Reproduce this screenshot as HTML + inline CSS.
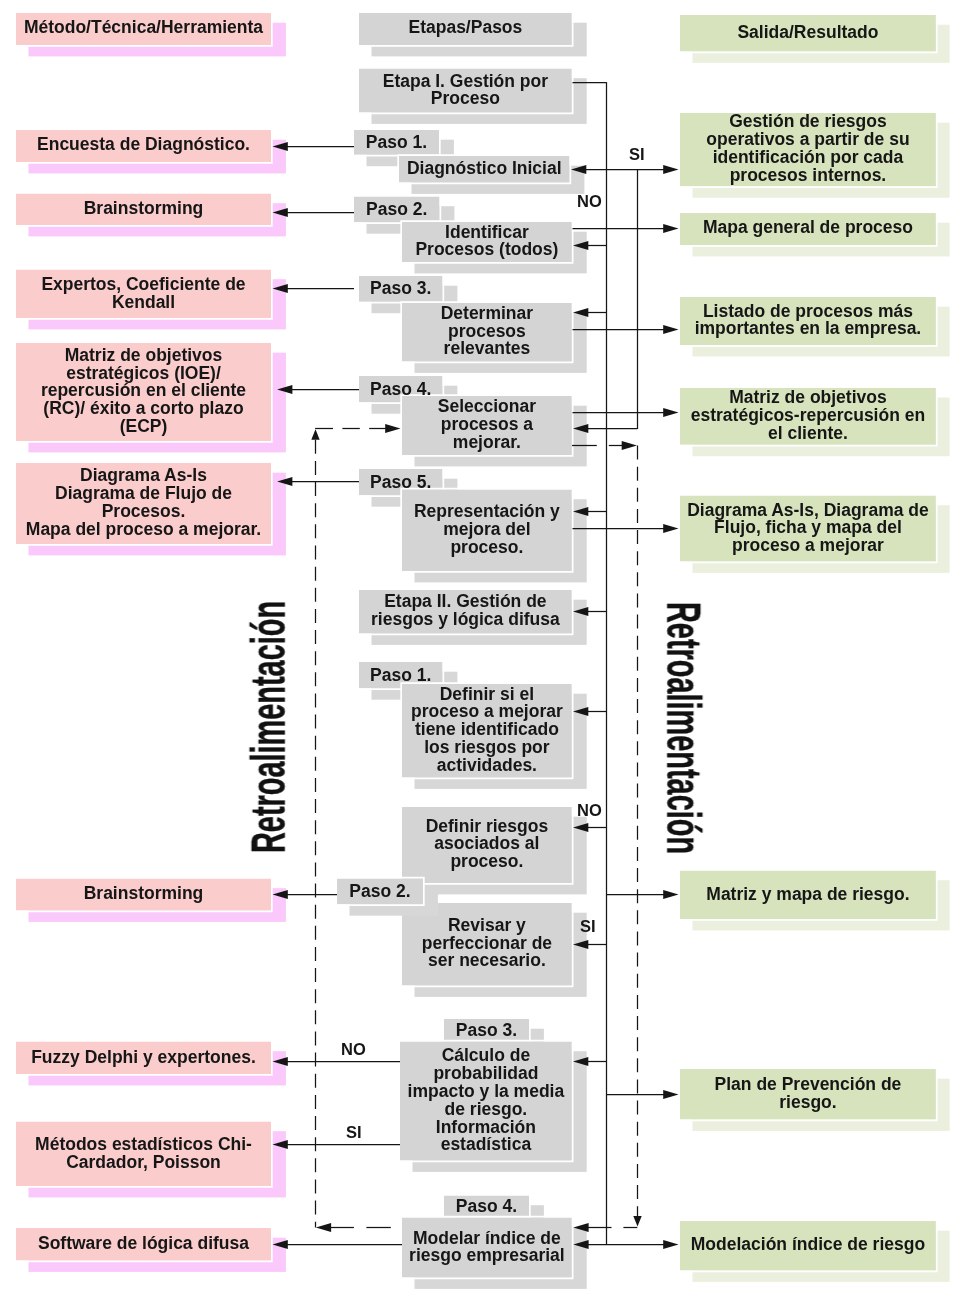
<!DOCTYPE html>
<html><head><meta charset="utf-8"><style>
html,body{margin:0;padding:0;background:#fff;width:968px;height:1300px;overflow:hidden;position:relative}
.s,.m{position:absolute;box-sizing:border-box}
.m{display:flex;align-items:center;justify-content:center;text-align:center;
font-family:"Liberation Sans",sans-serif;font-weight:bold;font-size:17.50px;line-height:17.80px;color:#161616;white-space:nowrap}
.m span{display:block;position:relative}
.m,.lb,.rt{will-change:transform}
.lb{position:absolute;font-family:"Liberation Sans",sans-serif;font-weight:bold;font-size:16.5px;line-height:16px;color:#161616;white-space:nowrap}
.rt{position:absolute;font-family:"Liberation Sans",sans-serif;font-weight:bold;color:#111;-webkit-text-stroke:0.3px #111;white-space:nowrap;transform-origin:0 0}
svg{position:absolute;left:0;top:0}
</style></head><body>

<svg width="968" height="1300" viewBox="0 0 968 1300">
<rect x="28.50" y="22.70" width="257.40" height="33.70" fill="#fac8fa"/>
<rect x="16.00" y="13.00" width="255.00" height="32.00" fill="#facccc"/>
<path d="M14.30 11.30H272.70V46.70H14.30Z M16.00 13.00V45.00H271.00V13.00Z" fill="#fff" fill-rule="evenodd"/>
<rect x="28.50" y="139.70" width="257.40" height="33.70" fill="#fac8fa"/>
<rect x="16.00" y="130.00" width="255.00" height="32.00" fill="#facccc"/>
<path d="M14.30 128.30H272.70V163.70H14.30Z M16.00 130.00V162.00H271.00V130.00Z" fill="#fff" fill-rule="evenodd"/>
<rect x="28.50" y="203.20" width="257.40" height="33.20" fill="#fac8fa"/>
<rect x="16.00" y="193.50" width="255.00" height="31.50" fill="#facccc"/>
<path d="M14.30 191.80H272.70V226.70H14.30Z M16.00 193.50V225.00H271.00V193.50Z" fill="#fff" fill-rule="evenodd"/>
<rect x="28.50" y="279.20" width="257.40" height="50.20" fill="#fac8fa"/>
<rect x="16.00" y="269.50" width="255.00" height="48.50" fill="#facccc"/>
<path d="M14.30 267.80H272.70V319.70H14.30Z M16.00 269.50V318.00H271.00V269.50Z" fill="#fff" fill-rule="evenodd"/>
<rect x="28.50" y="352.70" width="257.40" height="99.70" fill="#fac8fa"/>
<rect x="16.00" y="343.00" width="255.00" height="98.00" fill="#facccc"/>
<path d="M14.30 341.30H272.70V442.70H14.30Z M16.00 343.00V441.00H271.00V343.00Z" fill="#fff" fill-rule="evenodd"/>
<rect x="28.50" y="472.70" width="257.40" height="82.70" fill="#fac8fa"/>
<rect x="16.00" y="463.00" width="255.00" height="81.00" fill="#facccc"/>
<path d="M14.30 461.30H272.70V545.70H14.30Z M16.00 463.00V544.00H271.00V463.00Z" fill="#fff" fill-rule="evenodd"/>
<rect x="28.50" y="888.20" width="257.40" height="33.70" fill="#fac8fa"/>
<rect x="16.00" y="878.50" width="255.00" height="32.00" fill="#facccc"/>
<path d="M14.30 876.80H272.70V912.20H14.30Z M16.00 878.50V910.50H271.00V878.50Z" fill="#fff" fill-rule="evenodd"/>
<rect x="28.50" y="1051.20" width="257.40" height="34.20" fill="#fac8fa"/>
<rect x="16.00" y="1041.50" width="255.00" height="32.50" fill="#facccc"/>
<path d="M14.30 1039.80H272.70V1075.70H14.30Z M16.00 1041.50V1074.00H271.00V1041.50Z" fill="#fff" fill-rule="evenodd"/>
<rect x="28.50" y="1131.20" width="257.40" height="66.20" fill="#fac8fa"/>
<rect x="16.00" y="1121.50" width="255.00" height="64.50" fill="#facccc"/>
<path d="M14.30 1119.80H272.70V1187.70H14.30Z M16.00 1121.50V1186.00H271.00V1121.50Z" fill="#fff" fill-rule="evenodd"/>
<rect x="28.50" y="1237.70" width="257.40" height="34.20" fill="#fac8fa"/>
<rect x="16.00" y="1228.00" width="255.00" height="32.50" fill="#facccc"/>
<path d="M14.30 1226.30H272.70V1262.20H14.30Z M16.00 1228.00V1260.50H271.00V1228.00Z" fill="#fff" fill-rule="evenodd"/>
<rect x="692.50" y="24.70" width="257.10" height="38.20" fill="#eaf0dd"/>
<rect x="680.00" y="15.00" width="255.90" height="36.50" fill="#d7e3bd"/>
<path d="M678.30 13.30H937.60V53.20H678.30Z M680.00 15.00V51.50H935.90V15.00Z" fill="#fff" fill-rule="evenodd"/>
<rect x="692.50" y="122.70" width="257.10" height="75.00" fill="#eaf0dd"/>
<rect x="680.00" y="113.00" width="255.90" height="73.30" fill="#d7e3bd"/>
<path d="M678.30 111.30H937.60V188.00H678.30Z M680.00 113.00V186.30H935.90V113.00Z" fill="#fff" fill-rule="evenodd"/>
<rect x="692.50" y="222.70" width="257.10" height="33.70" fill="#eaf0dd"/>
<rect x="680.00" y="213.00" width="255.90" height="32.00" fill="#d7e3bd"/>
<path d="M678.30 211.30H937.60V246.70H678.30Z M680.00 213.00V245.00H935.90V213.00Z" fill="#fff" fill-rule="evenodd"/>
<rect x="692.50" y="306.70" width="257.10" height="49.70" fill="#eaf0dd"/>
<rect x="680.00" y="297.00" width="255.90" height="48.00" fill="#d7e3bd"/>
<path d="M678.30 295.30H937.60V346.70H678.30Z M680.00 297.00V345.00H935.90V297.00Z" fill="#fff" fill-rule="evenodd"/>
<rect x="692.50" y="397.50" width="257.10" height="58.70" fill="#eaf0dd"/>
<rect x="680.00" y="387.80" width="255.90" height="57.00" fill="#d7e3bd"/>
<path d="M678.30 386.10H937.60V446.50H678.30Z M680.00 387.80V444.80H935.90V387.80Z" fill="#fff" fill-rule="evenodd"/>
<rect x="692.50" y="505.20" width="257.10" height="67.70" fill="#eaf0dd"/>
<rect x="680.00" y="495.50" width="255.90" height="66.00" fill="#d7e3bd"/>
<path d="M678.30 493.80H937.60V563.20H678.30Z M680.00 495.50V561.50H935.90V495.50Z" fill="#fff" fill-rule="evenodd"/>
<rect x="692.50" y="880.20" width="257.10" height="50.20" fill="#eaf0dd"/>
<rect x="680.00" y="870.50" width="255.90" height="48.50" fill="#d7e3bd"/>
<path d="M678.30 868.80H937.60V920.70H678.30Z M680.00 870.50V919.00H935.90V870.50Z" fill="#fff" fill-rule="evenodd"/>
<rect x="692.50" y="1078.70" width="257.10" height="52.20" fill="#eaf0dd"/>
<rect x="680.00" y="1069.00" width="255.90" height="50.50" fill="#d7e3bd"/>
<path d="M678.30 1067.30H937.60V1121.20H678.30Z M680.00 1069.00V1119.50H935.90V1069.00Z" fill="#fff" fill-rule="evenodd"/>
<rect x="692.50" y="1230.70" width="257.10" height="51.20" fill="#eaf0dd"/>
<rect x="680.00" y="1221.00" width="255.90" height="49.50" fill="#d7e3bd"/>
<path d="M678.30 1219.30H937.60V1272.20H678.30Z M680.00 1221.00V1270.50H935.90V1221.00Z" fill="#fff" fill-rule="evenodd"/>
<rect x="371.50" y="22.70" width="215.20" height="33.70" fill="#d7d7d7"/>
<rect x="359.00" y="13.00" width="212.80" height="32.00" fill="#d4d4d4"/>
<path d="M357.30 11.30H573.50V46.70H357.30Z M359.00 13.00V45.00H571.80V13.00Z" fill="#fff" fill-rule="evenodd"/>
<rect x="371.50" y="78.20" width="215.20" height="45.70" fill="#d7d7d7"/>
<rect x="359.00" y="68.50" width="212.80" height="44.00" fill="#d4d4d4"/>
<path d="M357.30 66.80H573.50V114.20H357.30Z M359.00 68.50V112.50H571.80V68.50Z" fill="#fff" fill-rule="evenodd"/>
<rect x="366.50" y="139.70" width="87.40" height="26.50" fill="#d7d7d7"/>
<rect x="354.00" y="130.00" width="85.00" height="24.80" fill="#d4d4d4"/>
<path d="M352.30 128.30H440.70V156.50H352.30Z M354.00 130.00V154.80H439.00V130.00Z" fill="#fff" fill-rule="evenodd"/>
<rect x="411.50" y="165.70" width="172.90" height="28.20" fill="#d7d7d7"/>
<rect x="399.00" y="156.00" width="170.50" height="26.50" fill="#d4d4d4"/>
<path d="M397.30 154.30H571.20V184.20H397.30Z M399.00 156.00V182.50H569.50V156.00Z" fill="#fff" fill-rule="evenodd"/>
<rect x="366.50" y="206.20" width="87.90" height="27.50" fill="#d7d7d7"/>
<rect x="354.00" y="196.50" width="85.50" height="25.80" fill="#d4d4d4"/>
<path d="M352.30 194.80H441.20V224.00H352.30Z M354.00 196.50V222.30H439.50V196.50Z" fill="#fff" fill-rule="evenodd"/>
<rect x="414.50" y="231.70" width="172.20" height="41.70" fill="#d7d7d7"/>
<rect x="402.00" y="222.00" width="169.80" height="40.00" fill="#d4d4d4"/>
<path d="M400.30 220.30H573.50V263.70H400.30Z M402.00 222.00V262.00H571.80V222.00Z" fill="#fff" fill-rule="evenodd"/>
<rect x="371.50" y="285.70" width="85.90" height="27.50" fill="#d7d7d7"/>
<rect x="359.00" y="276.00" width="83.50" height="25.80" fill="#d4d4d4"/>
<path d="M357.30 274.30H444.20V303.50H357.30Z M359.00 276.00V301.80H442.50V276.00Z" fill="#fff" fill-rule="evenodd"/>
<rect x="414.50" y="312.70" width="172.20" height="60.20" fill="#d7d7d7"/>
<rect x="402.00" y="303.00" width="169.80" height="58.50" fill="#d4d4d4"/>
<path d="M400.30 301.30H573.50V363.20H400.30Z M402.00 303.00V361.50H571.80V303.00Z" fill="#fff" fill-rule="evenodd"/>
<rect x="371.50" y="385.70" width="85.90" height="28.00" fill="#d7d7d7"/>
<rect x="359.00" y="376.00" width="83.50" height="26.30" fill="#d4d4d4"/>
<path d="M357.30 374.30H444.20V404.00H357.30Z M359.00 376.00V402.30H442.50V376.00Z" fill="#fff" fill-rule="evenodd"/>
<rect x="414.50" y="405.70" width="172.20" height="60.70" fill="#d7d7d7"/>
<rect x="402.00" y="396.00" width="169.80" height="59.00" fill="#d4d4d4"/>
<path d="M400.30 394.30H573.50V456.70H400.30Z M402.00 396.00V455.00H571.80V396.00Z" fill="#fff" fill-rule="evenodd"/>
<rect x="371.50" y="478.70" width="85.90" height="28.00" fill="#d7d7d7"/>
<rect x="359.00" y="469.00" width="83.50" height="26.30" fill="#d4d4d4"/>
<path d="M357.30 467.30H444.20V497.00H357.30Z M359.00 469.00V495.30H442.50V469.00Z" fill="#fff" fill-rule="evenodd"/>
<rect x="414.50" y="499.20" width="172.20" height="83.20" fill="#d7d7d7"/>
<rect x="402.00" y="489.50" width="169.80" height="81.50" fill="#d4d4d4"/>
<path d="M400.30 487.80H573.50V572.70H400.30Z M402.00 489.50V571.00H571.80V489.50Z" fill="#fff" fill-rule="evenodd"/>
<rect x="371.50" y="599.70" width="215.20" height="45.20" fill="#d7d7d7"/>
<rect x="359.00" y="590.00" width="212.80" height="43.50" fill="#d4d4d4"/>
<path d="M357.30 588.30H573.50V635.20H357.30Z M359.00 590.00V633.50H571.80V590.00Z" fill="#fff" fill-rule="evenodd"/>
<rect x="371.50" y="671.70" width="85.90" height="28.00" fill="#d7d7d7"/>
<rect x="359.00" y="662.00" width="83.50" height="26.30" fill="#d4d4d4"/>
<path d="M357.30 660.30H444.20V690.00H357.30Z M359.00 662.00V688.30H442.50V662.00Z" fill="#fff" fill-rule="evenodd"/>
<rect x="414.50" y="693.70" width="172.20" height="95.20" fill="#d7d7d7"/>
<rect x="402.00" y="684.00" width="169.80" height="93.50" fill="#d4d4d4"/>
<path d="M400.30 682.30H573.50V779.20H400.30Z M402.00 684.00V777.50H571.80V684.00Z" fill="#fff" fill-rule="evenodd"/>
<rect x="414.50" y="816.70" width="172.20" height="77.70" fill="#d7d7d7"/>
<rect x="402.00" y="807.00" width="169.80" height="76.00" fill="#d4d4d4"/>
<path d="M400.30 805.30H573.50V884.70H400.30Z M402.00 807.00V883.00H571.80V807.00Z" fill="#fff" fill-rule="evenodd"/>
<rect x="414.50" y="912.70" width="172.20" height="84.20" fill="#d7d7d7"/>
<rect x="402.00" y="903.00" width="169.80" height="82.50" fill="#d4d4d4"/>
<path d="M400.30 901.30H573.50V987.20H400.30Z M402.00 903.00V985.50H571.80V903.00Z" fill="#fff" fill-rule="evenodd"/>
<rect x="349.50" y="888.20" width="88.40" height="27.50" fill="#d7d7d7"/>
<rect x="337.00" y="878.50" width="86.00" height="25.80" fill="#d4d4d4"/>
<path d="M335.30 876.80H424.70V906.00H335.30Z M337.00 878.50V904.30H423.00V878.50Z" fill="#fff" fill-rule="evenodd"/>
<rect x="456.50" y="1028.70" width="87.40" height="24.50" fill="#d7d7d7"/>
<rect x="444.00" y="1019.00" width="85.00" height="22.80" fill="#d4d4d4"/>
<path d="M442.30 1017.30H530.70V1043.50H442.30Z M444.00 1019.00V1041.80H529.00V1019.00Z" fill="#fff" fill-rule="evenodd"/>
<rect x="412.50" y="1051.20" width="174.20" height="120.70" fill="#d7d7d7"/>
<rect x="400.00" y="1041.50" width="171.80" height="119.00" fill="#d4d4d4"/>
<path d="M398.30 1039.80H573.50V1162.20H398.30Z M400.00 1041.50V1160.50H571.80V1041.50Z" fill="#fff" fill-rule="evenodd"/>
<rect x="456.50" y="1205.20" width="87.40" height="23.50" fill="#d7d7d7"/>
<rect x="444.00" y="1195.50" width="85.00" height="21.80" fill="#d4d4d4"/>
<path d="M442.30 1193.80H530.70V1219.00H442.30Z M444.00 1195.50V1217.30H529.00V1195.50Z" fill="#fff" fill-rule="evenodd"/>
<rect x="414.50" y="1227.20" width="172.20" height="61.70" fill="#d7d7d7"/>
<rect x="402.00" y="1217.50" width="169.80" height="60.00" fill="#d4d4d4"/>
<path d="M400.30 1215.80H573.50V1279.20H400.30Z M402.00 1217.50V1277.50H571.80V1217.50Z" fill="#fff" fill-rule="evenodd"/>
</svg>
<div class="m" style="left:16px;top:13px;width:255px;height:32px"><span style="top:-0.7px;left:0px">Método/Técnica/Herramienta</span></div>
<div class="m" style="left:16px;top:130px;width:255px;height:32px"><span style="top:-0.7px;left:0px">Encuesta de Diagnóstico.</span></div>
<div class="m" style="left:16px;top:193.5px;width:255px;height:31.5px"><span style="top:-0.7px;left:0px">Brainstorming</span></div>
<div class="m" style="left:16px;top:269.5px;width:255px;height:48.5px"><span style="top:-0.7px;left:0px">Expertos, Coeficiente de<br>Kendall</span></div>
<div class="m" style="left:16px;top:343px;width:255px;height:98px"><span style="top:-0.7px;left:0px">Matriz de objetivos<br>estratégicos (IOE)/<br>repercusión en el cliente<br>(RC)/ éxito a corto plazo<br>(ECP)</span></div>
<div class="m" style="left:16px;top:463px;width:255px;height:81px"><span style="top:-0.7px;left:0px">Diagrama As-Is<br>Diagrama de Flujo de<br>Procesos.<br>Mapa del proceso a mejorar.</span></div>
<div class="m" style="left:16px;top:878.5px;width:255px;height:32.0px"><span style="top:-0.7px;left:0px">Brainstorming</span></div>
<div class="m" style="left:16px;top:1041.5px;width:255px;height:32.5px"><span style="top:-0.7px;left:0px">Fuzzy Delphi y expertones.</span></div>
<div class="m" style="left:16px;top:1121.5px;width:255px;height:64.5px"><span style="top:-0.7px;left:0px">Métodos estadísticos Chi-<br>Cardador, Poisson</span></div>
<div class="m" style="left:16px;top:1228px;width:255px;height:32.5px"><span style="top:-0.7px;left:0px">Software de lógica difusa</span></div>
<div class="m" style="left:680px;top:15px;width:255.89999999999998px;height:36.5px"><span style="top:-0.7px;left:0px">Salida/Resultado</span></div>
<div class="m" style="left:680px;top:113px;width:255.89999999999998px;height:73.30000000000001px"><span style="top:-0.7px;left:0px">Gestión de riesgos<br>operativos a partir de su<br>identificación por cada<br>procesos internos.</span></div>
<div class="m" style="left:680px;top:213px;width:255.89999999999998px;height:32px"><span style="top:-0.7px;left:0px">Mapa general de proceso</span></div>
<div class="m" style="left:680px;top:297px;width:255.89999999999998px;height:48px"><span style="top:-0.7px;left:0px">Listado de procesos más<br>importantes en la empresa.</span></div>
<div class="m" style="left:680px;top:387.8px;width:255.89999999999998px;height:57.0px"><span style="top:-0.7px;left:0px">Matriz de objetivos<br>estratégicos-repercusión en<br>el cliente.</span></div>
<div class="m" style="left:680px;top:495.5px;width:255.89999999999998px;height:66.0px"><span style="top:-0.7px;left:0px">Diagrama As-Is, Diagrama de<br>Flujo, ficha y mapa del<br>proceso a mejorar</span></div>
<div class="m" style="left:680px;top:870.5px;width:255.89999999999998px;height:48.5px"><span style="top:-0.7px;left:0px">Matriz y mapa de riesgo.</span></div>
<div class="m" style="left:680px;top:1069px;width:255.89999999999998px;height:50.5px"><span style="top:-0.7px;left:0px">Plan de Prevención de<br>riesgo.</span></div>
<div class="m" style="left:680px;top:1221px;width:255.89999999999998px;height:49.5px"><span style="top:-0.7px;left:0px">Modelación índice de riesgo</span></div>
<div class="m" style="left:359px;top:13px;width:212.79999999999995px;height:32px"><span style="top:-0.7px;left:0px">Etapas/Pasos</span></div>
<div class="m" style="left:359px;top:68.5px;width:212.79999999999995px;height:44.0px"><span style="top:-0.7px;left:0px">Etapa I. Gestión por<br>Proceso</span></div>
<div class="m" style="left:354px;top:130px;width:85px;height:24.80000000000001px"><span style="top:0.30000000000000004px;left:0px">Paso 1.</span></div>
<div class="m" style="left:399px;top:156px;width:170.5px;height:26.5px"><span style="top:-0.7px;left:0px">Diagnóstico Inicial</span></div>
<div class="m" style="left:354px;top:196.5px;width:85.5px;height:25.80000000000001px"><span style="top:0.30000000000000004px;left:0px">Paso 2.</span></div>
<div class="m" style="left:402px;top:222px;width:169.79999999999995px;height:40px"><span style="top:-0.7px;left:0px">Identificar<br>Procesos (todos)</span></div>
<div class="m" style="left:359px;top:276px;width:83.5px;height:25.80000000000001px"><span style="top:0.30000000000000004px;left:0px">Paso 3.</span></div>
<div class="m" style="left:402px;top:303px;width:169.79999999999995px;height:58.5px"><span style="top:-0.7px;left:0px">Determinar<br>procesos<br>relevantes</span></div>
<div class="m" style="left:359px;top:376px;width:83.5px;height:26.30000000000001px"><span style="top:0.30000000000000004px;left:0px">Paso 4.</span></div>
<div class="m" style="left:402px;top:396px;width:169.79999999999995px;height:59px"><span style="top:-0.7px;left:0px">Seleccionar<br>procesos a<br>mejorar.</span></div>
<div class="m" style="left:359px;top:469px;width:83.5px;height:26.30000000000001px"><span style="top:0.30000000000000004px;left:0px">Paso 5.</span></div>
<div class="m" style="left:402px;top:489.5px;width:169.79999999999995px;height:81.5px"><span style="top:-0.7px;left:0px">Representación y<br>mejora del<br>proceso.</span></div>
<div class="m" style="left:359px;top:590px;width:212.79999999999995px;height:43.5px"><span style="top:-0.7px;left:0px">Etapa II. Gestión de<br>riesgos y lógica difusa</span></div>
<div class="m" style="left:359px;top:662px;width:83.5px;height:26.299999999999955px"><span style="top:0.30000000000000004px;left:0px">Paso 1.</span></div>
<div class="m" style="left:402px;top:684px;width:169.79999999999995px;height:93.5px"><span style="top:-0.7px;left:0px">Definir si el<br>proceso a mejorar<br>tiene identificado<br>los riesgos por<br>actividades.</span></div>
<div class="m" style="left:402px;top:807px;width:169.79999999999995px;height:76px"><span style="top:-0.7px;left:0px">Definir riesgos<br>asociados al<br>proceso.</span></div>
<div class="m" style="left:402px;top:903px;width:169.79999999999995px;height:82.5px"><span style="top:-0.7px;left:0px">Revisar y<br>perfeccionar de<br>ser necesario.</span></div>
<div class="m" style="left:337px;top:878.5px;width:86px;height:25.799999999999955px"><span style="top:-0.19999999999999996px;left:0px">Paso 2.</span></div>
<div class="m" style="left:444px;top:1019px;width:85px;height:22.799999999999955px"><span style="top:0.30000000000000004px;left:0px">Paso 3.</span></div>
<div class="m" style="left:400px;top:1041.5px;width:171.79999999999995px;height:119.0px"><span style="top:-0.7px;left:0px">Cálculo de<br>probabilidad<br>impacto y la media<br>de riesgo.<br>Información<br>estadística</span></div>
<div class="m" style="left:444px;top:1195.5px;width:85px;height:21.799999999999955px"><span style="top:0.30000000000000004px;left:0px">Paso 4.</span></div>
<div class="m" style="left:402px;top:1217.5px;width:169.79999999999995px;height:60.0px"><span style="top:-0.7px;left:0px">Modelar índice de<br>riesgo empresarial</span></div>
<svg width="968" height="1300" viewBox="0 0 968 1300">
<line x1="606.5" y1="82.3" x2="606.5" y2="1244.3" stroke="#151515" stroke-width="1.25"/>
<line x1="572.5" y1="82.5" x2="606.7" y2="82.5" stroke="#151515" stroke-width="1.25"/>
<line x1="637.5" y1="169.1" x2="637.5" y2="428.9" stroke="#151515" stroke-width="1.25"/>
<line x1="280" y1="146.5" x2="354" y2="146.5" stroke="#151515" stroke-width="1.25"/>
<line x1="580" y1="169.5" x2="670" y2="169.5" stroke="#151515" stroke-width="1.25"/>
<line x1="280" y1="212.5" x2="354" y2="212.5" stroke="#151515" stroke-width="1.25"/>
<line x1="572.5" y1="228.5" x2="670" y2="228.5" stroke="#151515" stroke-width="1.25"/>
<line x1="580" y1="245.5" x2="606.7" y2="245.5" stroke="#151515" stroke-width="1.25"/>
<line x1="280" y1="288.5" x2="354" y2="288.5" stroke="#151515" stroke-width="1.25"/>
<line x1="580" y1="312.5" x2="606.7" y2="312.5" stroke="#151515" stroke-width="1.25"/>
<line x1="572.5" y1="329.5" x2="670" y2="329.5" stroke="#151515" stroke-width="1.25"/>
<line x1="285" y1="389.5" x2="359" y2="389.5" stroke="#151515" stroke-width="1.25"/>
<line x1="572.5" y1="412.5" x2="670" y2="412.5" stroke="#151515" stroke-width="1.25"/>
<line x1="580" y1="428.5" x2="637.3" y2="428.5" stroke="#151515" stroke-width="1.25"/>
<line x1="572" y1="445.5" x2="596.8" y2="445.5" stroke="#151515" stroke-width="1.25"/>
<line x1="608.8" y1="445.5" x2="622" y2="445.5" stroke="#151515" stroke-width="1.25"/>
<line x1="315.1" y1="428.5" x2="333" y2="428.5" stroke="#151515" stroke-width="1.25"/>
<line x1="342.4" y1="428.5" x2="359.8" y2="428.5" stroke="#151515" stroke-width="1.25"/>
<line x1="369.2" y1="428.5" x2="388" y2="428.5" stroke="#151515" stroke-width="1.25"/>
<line x1="315.5" y1="439.85" x2="315.5" y2="1227.6" stroke="#151515" stroke-width="1.25" stroke-dasharray="14 7.13"/>
<line x1="637.5" y1="445.5" x2="637.5" y2="1217" stroke="#151515" stroke-width="1.25" stroke-dasharray="14 7.13"/>
<line x1="285" y1="481.5" x2="359" y2="481.5" stroke="#151515" stroke-width="1.25"/>
<line x1="580" y1="511.5" x2="606.7" y2="511.5" stroke="#151515" stroke-width="1.25"/>
<line x1="572.5" y1="528.5" x2="670" y2="528.5" stroke="#151515" stroke-width="1.25"/>
<line x1="580" y1="611.5" x2="606.7" y2="611.5" stroke="#151515" stroke-width="1.25"/>
<line x1="580" y1="711.5" x2="606.7" y2="711.5" stroke="#151515" stroke-width="1.25"/>
<line x1="580" y1="827.5" x2="606.7" y2="827.5" stroke="#151515" stroke-width="1.25"/>
<line x1="280" y1="894.5" x2="337" y2="894.5" stroke="#151515" stroke-width="1.25"/>
<line x1="606.7" y1="894.5" x2="670" y2="894.5" stroke="#151515" stroke-width="1.25"/>
<line x1="580" y1="944.5" x2="606.7" y2="944.5" stroke="#151515" stroke-width="1.25"/>
<line x1="280" y1="1061.5" x2="400" y2="1061.5" stroke="#151515" stroke-width="1.25"/>
<line x1="580" y1="1061.5" x2="606.7" y2="1061.5" stroke="#151515" stroke-width="1.25"/>
<line x1="606.7" y1="1094.5" x2="670" y2="1094.5" stroke="#151515" stroke-width="1.25"/>
<line x1="280" y1="1144.5" x2="400" y2="1144.5" stroke="#151515" stroke-width="1.25"/>
<line x1="623.4" y1="1227.5" x2="637.3" y2="1227.5" stroke="#151515" stroke-width="1.25"/>
<line x1="580" y1="1227.5" x2="611.5" y2="1227.5" stroke="#151515" stroke-width="1.25"/>
<line x1="366.4" y1="1227.5" x2="390.8" y2="1227.5" stroke="#151515" stroke-width="1.25"/>
<line x1="325" y1="1227.5" x2="353.9" y2="1227.5" stroke="#151515" stroke-width="1.25"/>
<line x1="280" y1="1244.5" x2="402" y2="1244.5" stroke="#151515" stroke-width="1.25"/>
<line x1="580" y1="1244.5" x2="670" y2="1244.5" stroke="#151515" stroke-width="1.25"/>
<polygon points="272.5,146.5 287.8,142.1 287.8,150.9" fill="#151515"/>
<polygon points="571,169.5 586.3,165.1 586.3,173.9" fill="#151515"/>
<polygon points="678.5,169.5 663.2,165.1 663.2,173.9" fill="#151515"/>
<polygon points="272.5,212.5 287.8,208.1 287.8,216.9" fill="#151515"/>
<polygon points="678.5,228.5 663.2,224.1 663.2,232.9" fill="#151515"/>
<polygon points="573,245.5 588.3,241.1 588.3,249.9" fill="#151515"/>
<polygon points="272.5,288.5 287.8,284.1 287.8,292.9" fill="#151515"/>
<polygon points="573,312.5 588.3,308.1 588.3,316.9" fill="#151515"/>
<polygon points="678.5,329.5 663.2,325.1 663.2,333.9" fill="#151515"/>
<polygon points="277.1,389.5 292.40000000000003,385.1 292.40000000000003,393.9" fill="#151515"/>
<polygon points="678.5,412.5 663.2,408.1 663.2,416.9" fill="#151515"/>
<polygon points="573,428.5 588.3,424.1 588.3,432.9" fill="#151515"/>
<polygon points="637,445.5 621.7,441.1 621.7,449.9" fill="#151515"/>
<polygon points="400.5,428.5 385.2,424.1 385.2,432.9" fill="#151515"/>
<polygon points="315.5,429.3 311.3,439.8 319.7,439.8" fill="#151515"/>
<polygon points="637.5,1226.6 633.3,1216.1 641.7,1216.1" fill="#151515"/>
<polygon points="277.1,481.5 292.40000000000003,477.1 292.40000000000003,485.9" fill="#151515"/>
<polygon points="573,511.5 588.3,507.1 588.3,515.9" fill="#151515"/>
<polygon points="678.5,528.5 663.2,524.1 663.2,532.9" fill="#151515"/>
<polygon points="573,611.5 588.3,607.1 588.3,615.9" fill="#151515"/>
<polygon points="573,711.5 588.3,707.1 588.3,715.9" fill="#151515"/>
<polygon points="573,827.5 588.3,823.1 588.3,831.9" fill="#151515"/>
<polygon points="272.5,894.5 287.8,890.1 287.8,898.9" fill="#151515"/>
<polygon points="678.5,894.5 663.2,890.1 663.2,898.9" fill="#151515"/>
<polygon points="573,944.5 588.3,940.1 588.3,948.9" fill="#151515"/>
<polygon points="272.5,1061.5 287.8,1057.1 287.8,1065.9" fill="#151515"/>
<polygon points="573,1061.5 588.3,1057.1 588.3,1065.9" fill="#151515"/>
<polygon points="678.5,1094.5 663.2,1090.1 663.2,1098.9" fill="#151515"/>
<polygon points="272.5,1144.5 287.8,1140.1 287.8,1148.9" fill="#151515"/>
<polygon points="573.3,1227.5 588.5999999999999,1223.1 588.5999999999999,1231.9" fill="#151515"/>
<polygon points="315.8,1227.5 331.1,1223.1 331.1,1231.9" fill="#151515"/>
<polygon points="272.5,1244.5 287.8,1240.1 287.8,1248.9" fill="#151515"/>
<polygon points="573.3,1244.5 588.5999999999999,1240.1 588.5999999999999,1248.9" fill="#151515"/>
<polygon points="678.5,1244.5 663.2,1240.1 663.2,1248.9" fill="#151515"/>
</svg>
<div class="lb" style="left:629px;top:146px">SI</div>
<div class="lb" style="left:576.5px;top:192.5px">NO</div>
<div class="lb" style="left:576.5px;top:801.5px">NO</div>
<div class="lb" style="left:580px;top:917.5px">SI</div>
<div class="lb" style="left:341px;top:1041px">NO</div>
<div class="lb" style="left:345.5px;top:1124px">SI</div>
<div class="rt" id="rtR" style="left:706.5px;top:601.8px;font-size:28.9px;line-height:28.9px;transform:rotate(90deg) scaleY(1.66)">Retroalimentación</div>
<div class="rt" id="rtL" style="left:244.5px;top:853.3px;font-size:28.9px;line-height:28.9px;transform:rotate(-90deg) scaleY(1.66)">Retroalimentación</div>
</body></html>
